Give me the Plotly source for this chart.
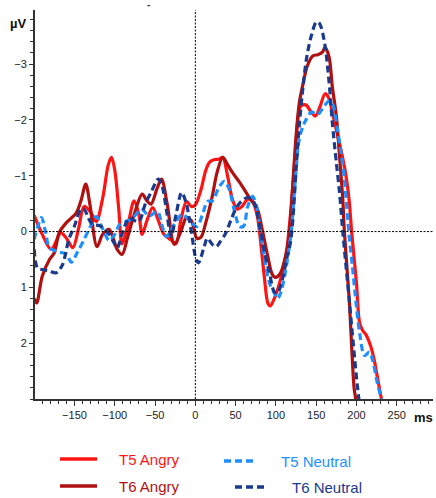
import plotly.graph_objects as go

# Time points (ms) and amplitudes (µV) for each electrode / condition
t5_angry_ms = [-200, -190, -179, -172, -167, -160, -152, -145, -138, -130, -123, -115, -108, -104,
               -100, -95, -91, -84, -76, -70, -66, -60, -53, -46, -39, -30, -24, -18, -11, -5, 0,
               7, 13, 18, 24, 30, 34, 40, 46, 52, 58, 65, 71, 77, 82, 86, 90, 93, 98, 104, 110,
               114, 118, 122, 125, 128, 131, 137, 144, 149, 155, 161, 166, 170, 175, 181, 187,
               191, 194, 200, 204, 208, 212, 218, 222, 226, 231, 234]
t5_angry_uv = [-0.29, 0.05, 0.32, 0.15, 0.02, 0.12, 0.29, -0.05, -0.45, -0.35, -0.18, -0.6, -1.2, -1.33,
               -1.1, -0.4, 0.22, -0.1, -0.55, -0.3, 0.05, -0.2, -0.43, -0.2, 0.05, 0.15, 0.22, -0.2,
               -0.54, -0.45, -0.48, -0.75, -1.1, -1.25, -1.29, -1.3, -1.33, -1.0, -0.58, -0.4, -0.45,
               -0.58, -0.54, -0.27, 0.32, 0.86, 1.28, 1.33, 1.2, 0.95, 0.6, 0.27, -0.3, -1.0, -1.6,
               -2.1, -2.25, -2.27, -2.14, -2.07, -2.25, -2.47, -2.38, -2.14, -1.82, -1.45, -1.0,
               -0.55, 0.0, 0.92, 1.64, 1.78, 1.85, 2.07, 2.3, 2.61, 3.0, 3.2]

t6_angry_ms = [-200, -197, -190, -181, -175, -169, -160, -148, -142, -136, -131, -122, -115, -107,
               -97, -91, -84, -76, -66, -60, -55, -48, -42, -35, -26, -18, -11, -5, 2, 7, 13, 21,
               27, 34, 40, 46, 55, 67, 77, 83, 90, 95, 99, 105, 113, 117, 121, 125, 129, 133, 139,
               146, 152, 158, 161, 166, 170, 175, 179, 183, 185, 191, 197, 199, 201]
t6_angry_uv = [1.2, 1.28, 0.8, 0.5, 0.38, 0.02, -0.16, -0.33, -0.55, -0.85, -0.5, 0.27, 0.05, -0.04,
               0.32, 0.41, 0.1, -0.3, -0.67, -0.55, -0.49, -0.75, -0.94, -0.5, 0.23, 0.0, -0.25,
               -0.2, 0.12, 0.1, -0.16, -0.63, -1.06, -1.33, -1.2, -1.06, -0.88, -0.61, -0.4, -0.04,
               0.45, 0.75, 0.82, 0.76, 0.38, 0.0, -0.85, -1.7, -2.3, -2.6, -2.97, -3.15, -3.17,
               -3.22, -3.3, -3.13, -2.6, -2.07, -1.35, -0.58, 0.0, 1.22, 2.79, 3.0, 3.3]

t5_neutral_ms = [-200, -196, -191, -186, -181, -170, -160, -154, -146, -138, -130, -123, -115, -107,
                 -100, -94, -85, -76, -67, -57, -47, -41, -36, -26, -16, -5, 2, 9, 15, 21, 30, 36,
                 42, 48, 55, 60, 65, 71, 76, 80, 86, 92, 98, 102, 106, 110, 113, 119, 124, 129,
                 134, 138, 144, 152, 160, 166, 170, 173, 177, 181, 185, 189, 191, 195, 200, 204,
                 210, 216, 220, 226, 231, 234]
t5_neutral_uv = [0.14, -0.07, -0.25, 0.0, 0.29, 0.36, 0.41, 0.55, 0.36, 0.14, -0.1, -0.27, -0.05,
                 0.16, 0.05, -0.13, -0.18, -0.27, -0.4, -0.28, -0.36, -0.09, 0.09, -0.13, -0.31,
                 -0.16, -0.09, -0.31, -0.54, -0.55, -0.81, -0.9, -0.76, -0.4, -0.09, -0.1, -0.45,
                 -0.63, -0.45, -0.09, 0.5, 0.92, 1.1, 1.2, 1.1, 0.86, 0.63, 0.0, -0.9, -1.66, -1.9,
                 -2.02, -2.14, -2.1, -2.25, -2.34, -2.3, -2.14, -1.78, -1.4, -0.94, -0.25, 0.09,
                 0.63, 1.35, 1.82, 2.22, 2.16, 2.3, 2.72, 3.0, 3.2]

t6_neutral_ms = [-200, -196, -190, -182, -173, -165, -157, -150, -142, -138, -133, -128, -118, -107,
                 -101, -97, -90, -82, -76, -70, -62, -55, -46, -41, -36, -30, -24, -17, -11, -5, 1,
                 4, 11, 15, 21, 26, 30, 38, 44, 50, 57, 65, 73, 80, 86, 92, 98, 102, 108, 114, 118,
                 121, 125, 129, 133, 138, 144, 150, 153, 156, 161, 166, 170, 175, 179, 183, 191,
                 200, 203, 206]
t6_neutral_uv = [0.32, 0.65, 0.68, 0.7, 0.74, 0.6, 0.14, -0.1, -0.4, -0.4, -0.25, -0.13, -0.1, 0.05,
                 0.2, 0.29, 0.0, -0.25, -0.2, -0.18, -0.5, -0.7, -0.94, -0.8, -0.4, 0.09, -0.3, -0.7,
                 -0.49, 0.0, 0.5, 0.56, 0.27, 0.12, 0.23, 0.27, 0.2, 0.02, -0.2, -0.4, -0.54, -0.61,
                 -0.52, -0.09, 0.38, 0.74, 1.08, 1.1, 0.86, 0.45, 0.2, -0.2, -1.1, -1.9, -2.5, -3.1,
                 -3.51, -3.75, -3.75, -3.67, -3.33, -2.68, -1.96, -1.24, -0.7, 0.0, 1.22, 2.61,
                 3.0, 3.3]

series_names = ["T5 Angry", "T6 Angry", "T5 Neutral", "T6 Neutral"]
x_ticks = [-150, -100, -50, 0, 50, 100, 150, 200, 250]
y_ticks = [-3, -2, -1, 0, 1, 2]

RED = "#ff1414"
DARK_RED = "#b01010"
LIGHT_BLUE = "#1e8fff"
NAVY = "#1a3a8c"
DASH = "7px,4px"

W, H = 436, 498
ML, MR, MT, MB = 35, 3, 10, 99


def px(xp, yp):
    """Pixel position -> paper coordinates."""
    return (xp - ML) / (W - ML - MR), (H - MB - yp) / (H - MT - MB)


fig = go.Figure()
styles = [
    (t5_angry_ms, t5_angry_uv, RED, None),
    (t6_angry_ms, t6_angry_uv, DARK_RED, None),
    (t5_neutral_ms, t5_neutral_uv, LIGHT_BLUE, DASH),
    (t6_neutral_ms, t6_neutral_uv, NAVY, DASH),
]
for name, (xs, ys, col, dash) in zip(series_names, styles):
    fig.add_trace(go.Scatter(
        x=xs, y=ys, mode="lines", name=name,
        line=dict(color=col, width=3.2, dash=dash, shape="spline", smoothing=0.9),
        showlegend=False,
    ))

shapes = [
    # zero reference lines
    dict(type="line", xref="paper", yref="y", x0=0, x1=1, y0=0, y1=0,
         line=dict(color="black", width=1, dash="2px,1.5px")),
    dict(type="line", xref="x", yref="paper", x0=0, x1=0, y0=0, y1=1,
         line=dict(color="black", width=1, dash="2px,1.5px")),
]

annotations = []
# legend
legend_items = [
    ("T5 Angry", RED, None, 60, 97, 459, 117),
    ("T6 Angry", DARK_RED, None, 60, 97, 486, 117),
    ("T5 Neutral", LIGHT_BLUE, DASH, 224, 257, 461, 279),
    ("T6 Neutral", NAVY, DASH, 235, 268, 487, 290),
]
for label, col, dash, x0, x1, yl, xt in legend_items:
    a0 = px(x0, yl)
    a1 = px(x1, yl)
    shapes.append(dict(type="line", xref="paper", yref="paper", x0=a0[0], x1=a1[0],
                       y0=a0[1], y1=a1[1], line=dict(color=col, width=3.5, dash=dash)))
    tx, ty = px(xt, yl)
    annotations.append(dict(xref="paper", yref="paper", x=tx, y=ty, text=label,
                            showarrow=False, xanchor="left", yanchor="middle",
                            font=dict(family="Liberation Sans, Arial", size=15, color=col)))

# unit labels
ux, uy = px(8, 23)
annotations.append(dict(xref="paper", yref="paper", x=ux, y=uy, text="<b>µV</b>", showarrow=False,
                        xanchor="left", yanchor="middle",
                        font=dict(family="Liberation Sans, Arial", size=13, color="#111")))
mx, my = px(435, 417)
annotations.append(dict(xref="paper", yref="paper", x=mx, y=my, text="<b>ms</b>", showarrow=False,
                        xanchor="right", yanchor="middle",
                        font=dict(family="Liberation Sans, Arial", size=13, color="#111")))
dx, dy = px(148, 5)
annotations.append(dict(xref="paper", yref="paper", x=dx, y=dy, text="<b>-</b>", showarrow=False,
                        xanchor="center", yanchor="middle",
                        font=dict(family="Liberation Sans, Arial", size=10, color="#333")))

fig.update_layout(
    width=W, height=H,
    margin=dict(l=ML, r=MR, t=MT, b=MB),
    paper_bgcolor="white", plot_bgcolor="white",
    font=dict(family="Liberation Sans, Arial", size=11, color="#222"),
    shapes=shapes, annotations=annotations,
    showlegend=False,
)
fig.update_xaxes(
    range=[-199, 295], tickvals=x_ticks, showgrid=False, zeroline=False,
    showline=True, linecolor="#333", linewidth=2,
    ticks="outside", ticklen=5, tickwidth=1, tickcolor="#333",
    minor=dict(dtick=10, tick0=0, ticks="outside", ticklen=3, tickwidth=1, tickcolor="#333"),
)
fig.update_yaxes(
    range=[3, -3.97], tickvals=y_ticks, showgrid=False, zeroline=False,
    showline=True, linecolor="#333", linewidth=2,
    ticks="outside", ticklen=4, tickwidth=1, tickcolor="#333",
    minor=dict(dtick=0.2, tick0=0, ticks="outside", ticklen=3, tickwidth=1, tickcolor="#333"),
)

fig.write_html("out.html")
